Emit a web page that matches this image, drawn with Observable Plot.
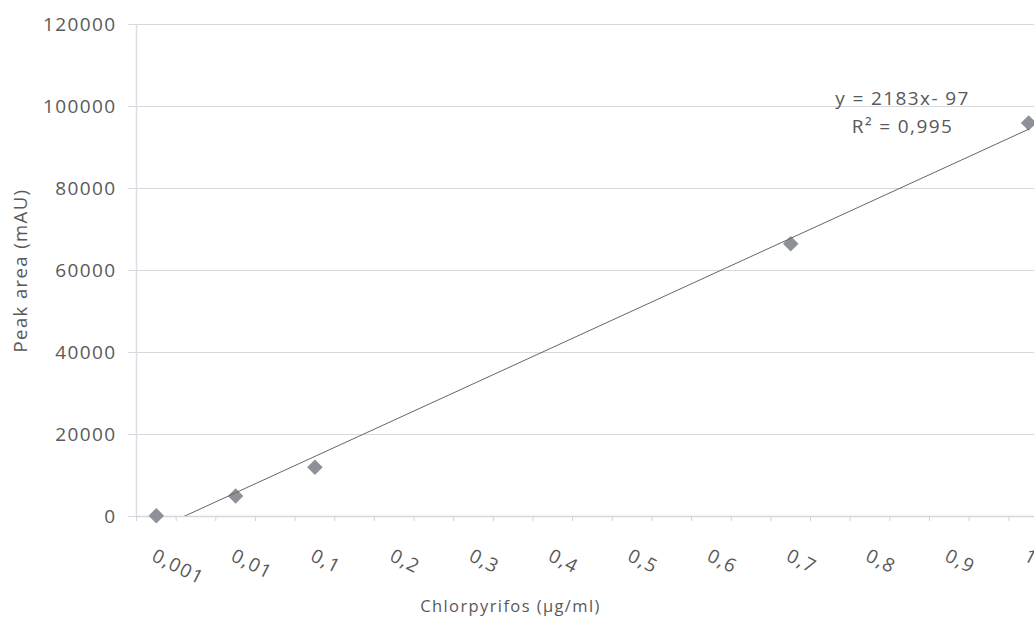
<!DOCTYPE html>
<html>
<head>
<meta charset="utf-8">
<script src="https://cdn.jsdelivr.net/npm/d3@7"></script>
<script src="https://cdn.jsdelivr.net/npm/@observablehq/plot@0.6"></script>
<style>
  html, body { margin: 0; padding: 0; background: #fff; overflow: hidden; }
  #chart svg text { fill: #595959; }
</style>
</head>
<body>
<div id="chart"></div>
<script>
// Category labels on the x axis (Chlorpyrifos concentration, µg/ml)
const categories = ["0,001", "0,01", "0,1", "0,2", "0,3", "0,4", "0,5", "0,6", "0,7", "0,8", "0,9", "1"];
// Measured calibration points
const pointCategories = ["0,001", "0,01", "0,1", "0,7", "1"];
const peakArea = [200, 5000, 12000, 66500, 96000];
// Y axis ticks
const yTicks = [0, 20000, 40000, 60000, 80000, 100000, 120000];
// Trendline annotation
const equationText = "y = 2183x- 97\nR² = 0,995";
const xTitle = "Chlorpyrifos (µg/ml)";
const yTitle = "Peak area (mAU)";

const data = pointCategories.map((c, k) => ({i: categories.indexOf(c), v: peakArea[k]}));
const n = categories.length;
const xDomain = [-0.25, n - 0.75];
// minor tick marks every half category
const halfTicks = d3.range(0, 2 * n).map(k => xDomain[0] + k * 0.5);

const W = 1034, H = 617;
const mL = 136, mT = 24, mB = 101;
const band = 79.3;

const chart = Plot.plot({
  width: W,
  height: H,
  marginLeft: mL,
  marginRight: 0,
  marginTop: mT,
  marginBottom: mB,
  style: {fontFamily: "Open Sans", fontSize: "19px", letterSpacing: "1.4px", background: "#fff", overflow: "visible"},
  x: {domain: xDomain, range: [mL, mL + band * (xDomain[1] - xDomain[0])]},
  y: {domain: [0, 120000], range: [H - mB, mT]},
  marks: [
    Plot.gridY(yTicks, {stroke: "#d6d9de", strokeOpacity: 1, strokeWidth: 1.2}),
    Plot.ruleY([0], {stroke: "#d3d7de", strokeWidth: 1.5}),
    Plot.ruleX([xDomain[0]], {stroke: "#dcdfe5", strokeWidth: 1.5}),
    Plot.axisY(yTicks, {
      tickSize: 8, tickPadding: 12, stroke: "#d6d9de",
      tickFormat: d => String(d), fontSize: 19, label: null
    }),
    Plot.axisX(halfTicks, {tickSize: 5, stroke: "#cfd3da", text: null, label: null}),
    Plot.axisX(d3.range(n), {
      tickSize: 0, tickPadding: 38, tickRotate: 27,
      textAnchor: "start", lineAnchor: "middle", dx: -3,
      tickFormat: i => categories[i], fontSize: 19, label: null
    }),
    Plot.dot(data, {x: "i", y: "v", symbol: "diamond2", r: 7, fill: "#8e9298", stroke: "none"}),
    Plot.linearRegressionY(data, {x: "i", y: "v", ci: 0, stroke: "#666", strokeWidth: 1, clip: true}),
    Plot.text([equationText], {
      frameAnchor: "top-right", dx: -(W - 902), dy: 61,
      textAnchor: "middle", lineAnchor: "top", lineHeight: 1.47, fontSize: 19
    }),
    Plot.text([xTitle], {
      frameAnchor: "bottom", dx: -75, dy: 90, textAnchor: "middle", lineAnchor: "middle",
      fontSize: 16.5, style: "letter-spacing:0.4px"
    }),
    Plot.text([yTitle], {
      frameAnchor: "left", dx: -(mL - 21), rotate: -90, textAnchor: "middle", lineAnchor: "middle",
      fontSize: 18.5, style: "letter-spacing:0.6px"
    })
  ]
});
document.getElementById("chart").appendChild(chart);
</script>
</body>
</html>
